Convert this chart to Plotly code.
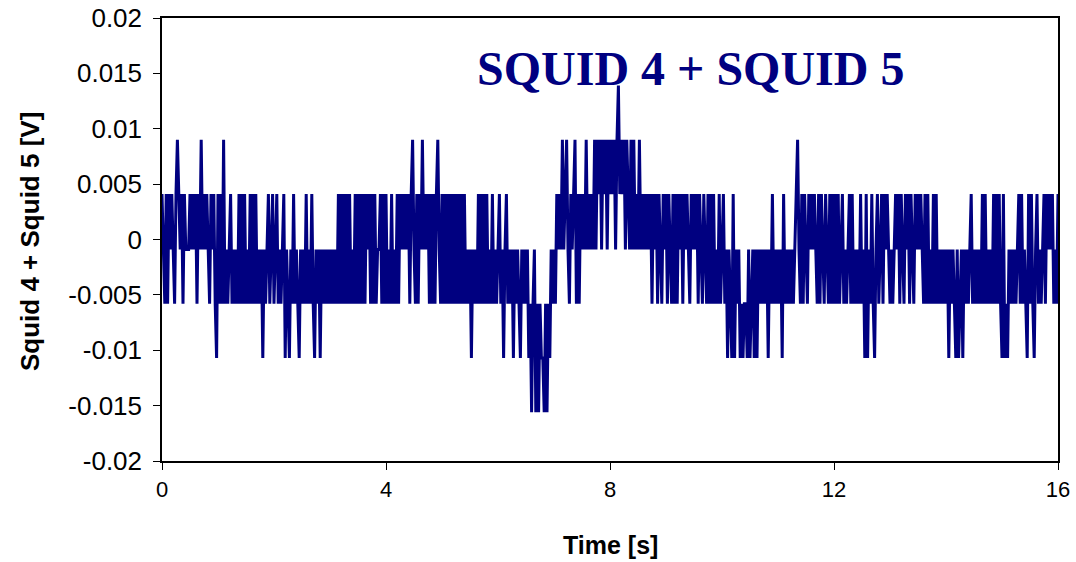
import plotly.graph_objects as go

# Quantised signal levels (V)
LEVELS = [-0.0156, -0.0107, -0.0058, -0.0009, 0.0041, 0.0090, 0.0139]

# Level index per sample, one string per second (40 samples / s)
CODES = [
    "4324243432" "4543424333" "4343424353" "4343243421",
    "4242523234" "2323242424" "2324242423" "2313234234",
    "2342323413" "2132423213" "2324232421" "3231323232",
    "3232324242" "4242423242" "4242424342" "4242334242",
    "4232423242" "4343434245" "3242435343" "4242424532",
    "4242424242" "4242424232" "3132324242" "4242324232",
    "3423134232" "3132321323" "2312023020" "2110202132",
    "3243435345" "3243452424" "3435343435" "3545354535",
    "4545356454" "5354353534" "3534343434" "2434243243",
    "4243242424" "3424343243" "4342432432" "4242423242",
    "3423132141" "3231212213" "1231313232" "3231324232",
    "3231423232" "3234532424" "3243434324" "2432432424",
    "2424234232" "3424232324" "2314132421" "3423424343",
    "2323434243" "2434243243" "4343242423" "2424232323",
    "2313232131" "2313232342" "3232324242" "3232424242",
    "1412132323" "2342423214" "2421342323" "4243434232",
    "4",
]
SAMPLE_STEP = 0.025  # s

X_TICKS = [0, 4, 8, 12, 16]
Y_TICKS = [-0.02, -0.015, -0.01, -0.005, 0, 0.005, 0.01, 0.015, 0.02]
Y_TICK_TEXT = ["-0.02", "-0.015", "-0.01", "-0.005", "0", "0.005", "0.01", "0.015", "0.02"]

TITLE = "SQUID 4 + SQUID 5"
X_TITLE = "Time [s]"
Y_TITLE = "Squid 4 + Squid 5 [V]"

codes = "".join(CODES)
signal = [LEVELS[int(c)] for c in codes]
time = [i * SAMPLE_STEP for i in range(len(signal))]

W, H = 1076, 562
L, R, T, B = 162, 18, 18, 101
PW, PH = W - L - R, H - T - B


def px(x):
    return (x - L) / PW


def py(y):
    return (H - B - y) / PH


fig = go.Figure()
fig.add_trace(go.Scatter(
    x=time, y=signal, mode="lines",
    line=dict(color="#000080", width=3, simplify=False),
    hoverinfo="skip", showlegend=False,
))

axis_common = dict(
    showgrid=False, zeroline=False, showline=True, linecolor="black",
    linewidth=1.5, mirror=True, ticks="outside", tickcolor="black",
    ticklen=7, tickwidth=1, automargin=False,
)

fig.update_layout(
    width=W, height=H,
    margin=dict(l=L, r=R, t=T, b=B, pad=0, autoexpand=False),
    paper_bgcolor="white", plot_bgcolor="white",
    font=dict(family="Liberation Sans, Arial, sans-serif", color="black"),
    xaxis=dict(range=[0, 16], tickvals=X_TICKS, ticktext=[str(v) for v in X_TICKS],
               tickfont=dict(size=22), ticklabelstandoff=1, **axis_common),
    yaxis=dict(range=[-0.02, 0.02], tickvals=Y_TICKS, ticktext=Y_TICK_TEXT,
               tickfont=dict(size=26), ticklabelstandoff=6, **axis_common),
    annotations=[
        dict(text="<b>" + TITLE + "</b>", xref="paper", yref="paper",
             x=px(690), y=py(68), xanchor="center", yanchor="middle",
             showarrow=False,
             font=dict(family="Liberation Serif, Times New Roman, serif", size=48, color="#000080")),
        dict(text="<b>" + X_TITLE + "</b>", xref="paper", yref="paper",
             x=px(610), y=py(545), xanchor="center", yanchor="middle",
             showarrow=False, font=dict(size=25, color="black")),
        dict(text="<b>" + Y_TITLE + "</b>", xref="paper", yref="paper",
             x=px(30), y=py(242), xanchor="center", yanchor="middle",
             textangle=-90, showarrow=False, font=dict(size=26, color="black")),
    ],
)

fig.write_html("out.html")
